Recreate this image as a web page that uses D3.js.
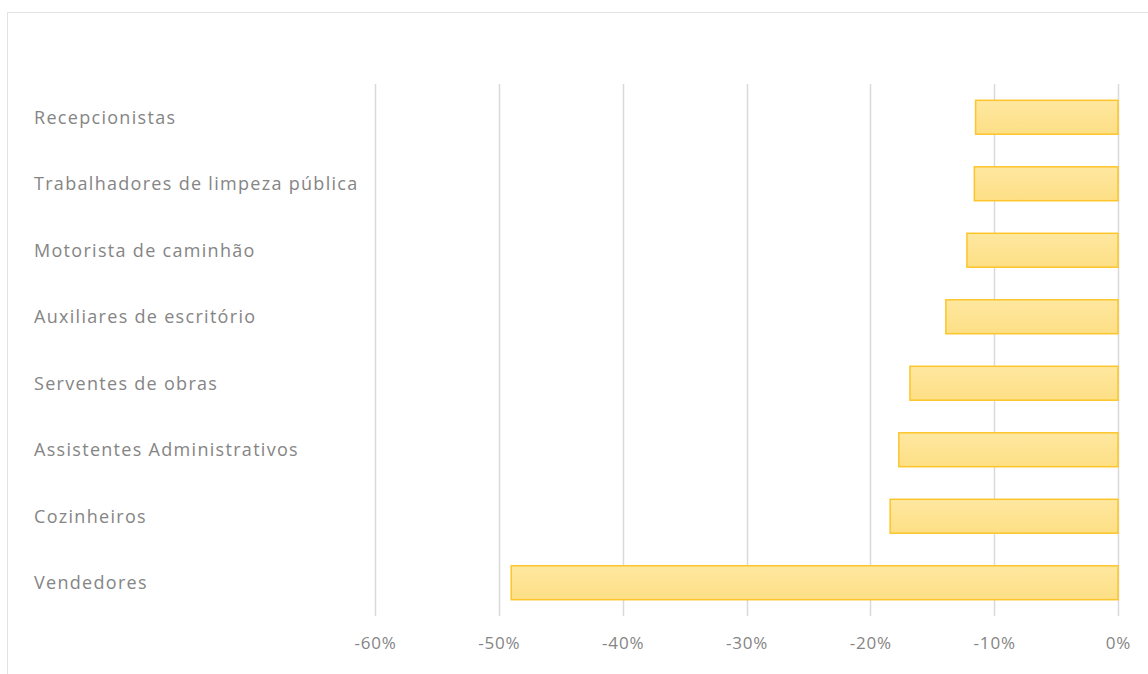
<!DOCTYPE html>
<html>
<head>
<meta charset="utf-8">
<script src="https://cdn.jsdelivr.net/npm/d3@7"></script>
<style>
  body { margin: 0; background: #fff; }
  text { font-family: "Open Sans", "Noto Sans", sans-serif; fill: #858585; }
</style>
</head>
<body>
<div id="chart"></div>
<script>
var categories = ["Recepcionistas", "Trabalhadores de limpeza pública", "Motorista de caminhão",
  "Auxiliares de escritório", "Serventes de obras", "Assistentes Administrativos",
  "Cozinheiros", "Vendedores"];
var values = [-0.115, -0.116, -0.122, -0.139, -0.168, -0.177, -0.184, -0.49];
var tickValues = [-0.6, -0.5, -0.4, -0.3, -0.2, -0.1, 0];

var W = 1148, H = 674;
var margin = { left: 375, right: 30, top: 84, bottom: 58 };

var svg = d3.select("#chart").append("svg")
  .attr("width", W).attr("height", H);

var defs = svg.append("defs");
var grad = defs.append("linearGradient").attr("id", "barGrad")
  .attr("x1", 0).attr("y1", 0).attr("x2", 0).attr("y2", 1);
grad.append("stop").attr("offset", "0%").attr("stop-color", "#fee7a0");
grad.append("stop").attr("offset", "100%").attr("stop-color", "#fddf85");

// outer frame
svg.append("rect")
  .attr("x", 7.5).attr("y", 12.5).attr("width", W).attr("height", H)
  .attr("fill", "none").attr("stroke", "#e3e3e3");

var g = svg.append("g")
  .attr("transform", "translate(" + margin.left + "," + margin.top + ")");

var x = d3.scaleLinear().domain([-0.6, 0]).range([0, 743]);
var y = d3.scaleBand().domain(categories).range([0, 532]).paddingInner(0.49).paddingOuter(0.245);

// gridlines
g.selectAll(".grid").data(tickValues).enter().append("line")
  .attr("class", "grid")
  .attr("x1", function(d) { return Math.round(x(d)) + 0.5; })
  .attr("x2", function(d) { return Math.round(x(d)) + 0.5; })
  .attr("y1", 0).attr("y2", 532)
  .attr("stroke", "#d9d9d9").attr("stroke-width", 1.5);

// bars
g.selectAll(".bar").data(values).enter().append("rect")
  .attr("class", "bar")
  .attr("x", function(d) { return x(d); })
  .attr("width", function(d) { return x(0) - x(d); })
  .attr("y", function(d, i) { return y(categories[i]); })
  .attr("height", y.bandwidth())
  .attr("fill", "url(#barGrad)")
  .attr("stroke", "#fcc52a").attr("stroke-width", 1.5);

// x axis
var pct = function(d) { return Math.round(d * 100) + "%"; };
var xAxisCall = d3.axisBottom(x).tickValues(tickValues)
  .tickFormat(pct).tickSize(0).tickPadding(21);
var xAxis = g.append("g").attr("transform", "translate(0,532)").call(xAxisCall);
xAxis.select(".domain").remove();
xAxis.selectAll("text")
  .style("font-size", "17px").style("letter-spacing", "0.8px")
  .attr("fill", "#858585");

// category labels
g.selectAll(".cat").data(categories).enter().append("text")
  .attr("class", "cat")
  .attr("x", 34 - margin.left)
  .attr("y", function(d) { return y(d) + y.bandwidth() / 2; })
  .attr("dy", "0.35em")
  .style("font-size", "18px").style("letter-spacing", "1.3px")
  .text(function(d) { return d; });
</script>
</body>
</html>
